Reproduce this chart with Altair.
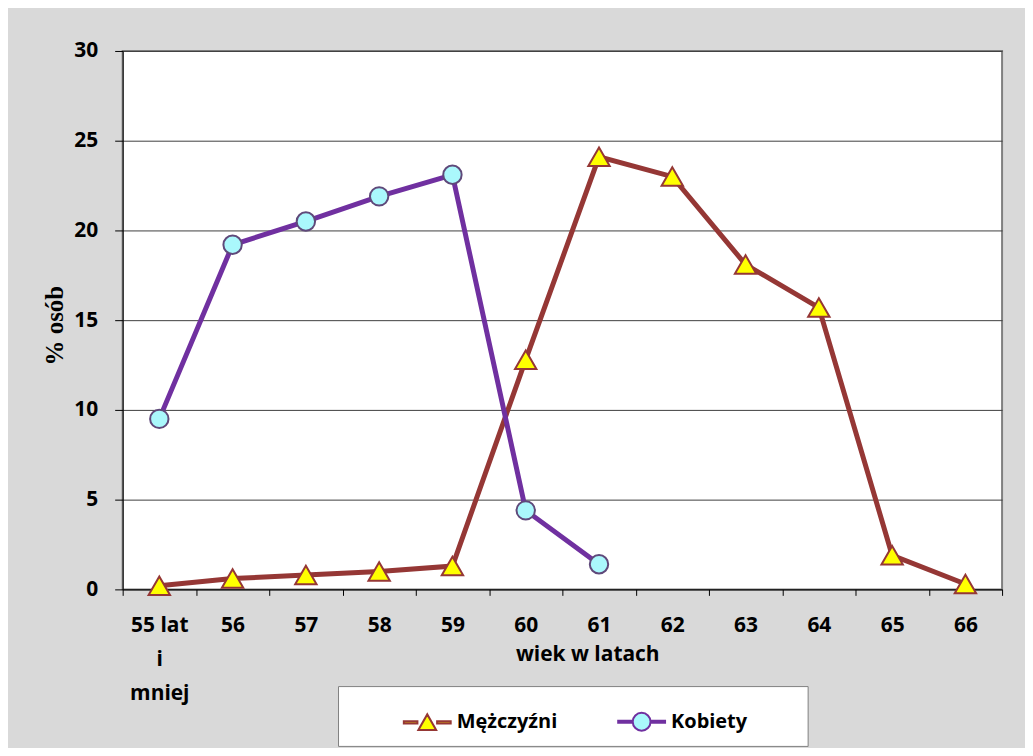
import altair as alt
import pandas as pd

categories = ["55 lat i mniej", "56", "57", "58", "59", "60", "61", "62", "63", "64", "65", "66"]
men = [0.2, 0.6, 0.8, 1.0, 1.3, 12.8, 24.1, 23.0, 18.1, 15.7, 1.9, 0.3]
women = [9.5, 19.2, 20.5, 21.9, 23.1, 4.4, 1.4, None, None, None, None, None]
series = ["Mężczyźni", "Kobiety"]
y_ticks = [0, 5, 10, 15, 20, 25, 30]

rows = []
for c, m, w in zip(categories, men, women):
    rows.append({"cat": c, "val": m, "series": series[0]})
    if w is not None:
        rows.append({"cat": c, "val": w, "series": series[1]})
df = pd.DataFrame(rows)

MEN_LINE = "#953735"
WOMEN_LINE = "#7030a0"
FONT = "Open Sans"

x = alt.X(
    "cat:N",
    sort=categories,
    scale=alt.Scale(type="band", paddingInner=0, paddingOuter=0),
    bandPosition=0.5,
    title="wiek w latach",
    axis=alt.Axis(
        grid=False,
        tickBand="extent",
        tickSize=6,
        labelPadding=19,
        labelAngle=0,
        labelOverlap=False,
        labelLineHeight=34,
        labelExpr="datum.label == '55 lat i mniej' ? ['55 lat', 'i', 'mniej'] : datum.label",
        titleX=466,
        titleY=65,
        titleBaseline="middle",
        titleAlign="center",
    ),
)
y = alt.Y(
    "val:Q",
    scale=alt.Scale(domain=[0, 30], nice=False),
    title="% osób",
    axis=alt.Axis(
        values=y_ticks,
        grid=True,
        tickSize=8,
        labelPadding=17,
        titleFont="Liberation Serif",
        titleFontSize=25,
        titleAngle=-90,
        titleX=-68,
        titleY=275,
        titleAlign="center",
        titleBaseline="middle",
    ),
)

base = alt.Chart(df)

men_line = base.transform_filter(alt.datum.series == series[0]).mark_line(
    color=MEN_LINE, strokeWidth=5
).encode(x=x, y=y)
men_pts = base.transform_filter(alt.datum.series == series[0]).mark_point(
    shape="triangle-up", filled=True, fill="#ffff00", stroke=MEN_LINE,
    strokeWidth=2, size=460, opacity=1
).encode(x=x, y=y)
women_line = base.transform_filter(alt.datum.series == series[1]).mark_line(
    color=WOMEN_LINE, strokeWidth=5
).encode(x=x, y=y)
women_pts = base.transform_filter(alt.datum.series == series[1]).mark_point(
    shape="circle", filled=True, fill="#aaf8fc", stroke="#5f497a",
    strokeWidth=2, size=340, opacity=1
).encode(x=x, y=y)

tri_path = (
    "M-1,-0.045L-0.42,-0.045L-0.42,0.045L-1,0.045Z "
    "M0.42,-0.045L1,-0.045L1,0.045L0.42,0.045Z "
    "M-0.38,0.33L0,-0.34L0.38,0.33Z"
)
circ_path = (
    "M-1,-0.045L-0.4,-0.045L-0.4,0.045L-1,0.045Z "
    "M0.4,-0.045L1,-0.045L1,0.045L0.4,0.045Z "
    "M-0.38,0A0.38,0.38 0 1,0 0.38,0A0.38,0.38 0 1,0 -0.38,0Z"
)

leg = alt.Legend(
    orient="none",
    legendX=216,
    legendY=637,
    direction="horizontal",
    title=" ",
    titleOrient="right",
    titlePadding=50,
    symbolOffset=54,
    fillColor="white",
    strokeColor="#7f7f7f",
    padding=11,
    labelFont=FONT,
    labelFontWeight="bold",
    labelFontSize=20,
    labelColor="black",
    labelOffset=5,
    columnPadding=6,
    symbolSize=2209,
    symbolStrokeWidth=2,
)

legend_layer = base.transform_filter("false").mark_point(
    filled=True, opacity=1, strokeWidth=2, size=2209
).encode(
    x=x,
    y=y,
    shape=alt.Shape("series:N", scale=alt.Scale(domain=series, range=[tri_path, circ_path]), legend=leg),
    fill=alt.Fill("series:N", scale=alt.Scale(domain=series, range=["#ffff00", "#aaf8fc"]), legend=leg),
    stroke=alt.Stroke("series:N", scale=alt.Scale(domain=series, range=[MEN_LINE, WOMEN_LINE]), legend=leg),
)

chart = alt.layer(men_line, women_line, men_pts, women_pts, legend_layer).properties(
    width=882,
    height=540,
    autosize=alt.AutoSizeParams(type="none"),
    padding={"left": 115, "top": 42, "right": 23, "bottom": 158},
    background="#d9d9d9",
).configure_view(
    fill="white", stroke="#808080", strokeWidth=2
).configure_axis(
    domainColor="black",
    tickColor="black",
    gridColor="#3f3f3f",
    gridWidth=1,
    labelFont=FONT,
    labelFontWeight="bold",
    labelFontSize=21,
    labelColor="black",
    titleFont=FONT,
    titleFontWeight="bold",
    titleFontSize=21,
    titleColor="black",
)

chart.save("out.html", embed_options={"renderer": "svg", "actions": False})
